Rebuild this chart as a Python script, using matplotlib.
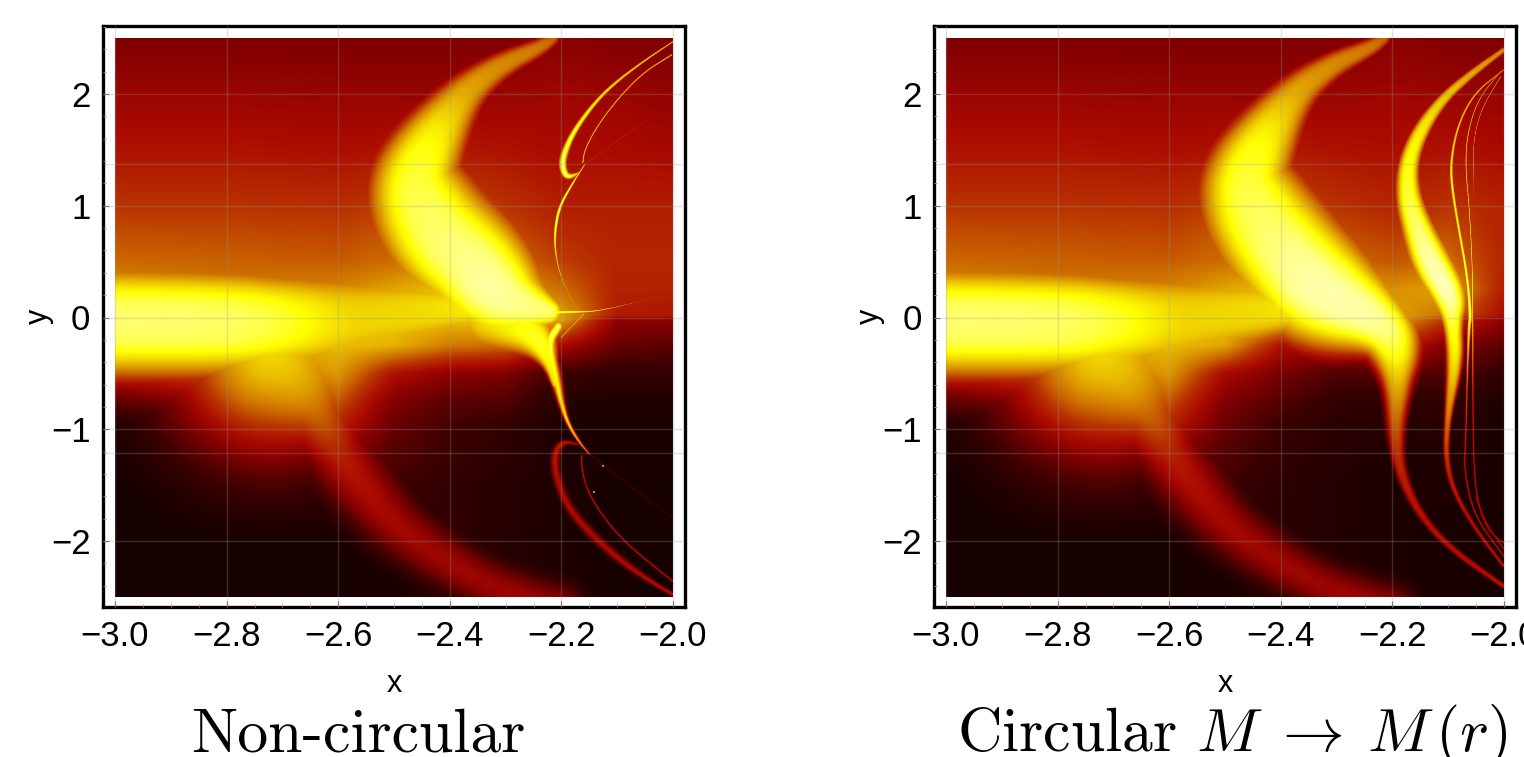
import numpy as np
import matplotlib
matplotlib.use("Agg")
import matplotlib.pyplot as plt
from matplotlib.colors import LinearSegmentedColormap
from matplotlib.ticker import MultipleLocator

# background brightness, rows from y = 2.5 down to y = -2.5
x_nodes = [-3.0, -2.8, -2.6, -2.5, -2.4, -2.3, -2.2, -2.1, -2.0]
y_nodes = [2.5, 2.0, 1.5, 1.0, 0.5, 0.25, 0.02, -0.02, -0.25, -0.5, -0.75, -1.0, -1.5, -2.0, -2.5]

bg_noncircular = [
    [.29, .29, .29, .29, .29, .30, .32, .30, .29],
    [.36, .36, .35, .35, .35, .36, .37, .36, .34],
    [.42, .42, .41, .42, .44, .42, .40, .40, .39],
    [.50, .50, .49, .52, .55, .50, .45, .45, .45],
    [.59, .58, .57, .60, .65, .60, .52, .47, .47],
    [.66, .62, .64, .70, .75, .70, .60, .46, .46],
    [.70, .70, .72, .75, .75, .75, .70, .44, .43],
    [.70, .70, .74, .76, .75, .75, .70, .33, .32],
    [.62, .70, .74, .72, .62, .60, .40, .24, .22],
    [.48, .56, .68, .42, .33, .30, .15, .12, .12],
    [.22, .35, .56, .30, .22, .20, .07, .06, .06],
    [.06, .10, .45, .24, .16, .12, .05, .04, .04],
    [.03, .03, .10, .16, .12, .08, .05, .03, .03],
    [.03, .03, .03, .08, .12, .08, .05, .03, .03],
    [.03, .03, .03, .03, .12, .10, .06, .03, .03],
]

bg_circular = [
    [.29, .29, .29, .29, .29, .30, .32, .30, .29],
    [.36, .36, .35, .35, .35, .36, .37, .36, .35],
    [.42, .42, .41, .42, .44, .42, .41, .42, .40],
    [.50, .50, .49, .52, .55, .50, .47, .50, .46],
    [.59, .58, .57, .60, .65, .60, .56, .60, .47],
    [.66, .62, .64, .70, .75, .72, .66, .70, .45],
    [.70, .70, .72, .75, .75, .75, .70, .60, .40],
    [.70, .70, .74, .76, .75, .75, .70, .50, .33],
    [.62, .70, .74, .70, .42, .38, .50, .30, .22],
    [.48, .56, .68, .40, .28, .20, .20, .20, .12],
    [.22, .35, .56, .30, .20, .12, .10, .12, .06],
    [.06, .10, .45, .24, .14, .09, .07, .08, .04],
    [.03, .03, .10, .16, .10, .07, .05, .05, .03],
    [.03, .03, .03, .08, .10, .07, .05, .04, .03],
    [.03, .03, .03, .03, .10, .08, .05, .03, .03],
]

# bright ridges: x, y, half width (in x units), peak brightness
band_horizontal = [(-3.15, -.03, .12, .93), (-2.8, -.05, .118, .93), (-2.7, -.05, .11, .88),
                   (-2.6, -.03, .11, .78), (-2.5, .03, .09, .78), (-2.4, .08, .06, .80),
                   (-2.3, .10, .04, .85)]
band_lower = [(-2.72, -.30, .20, .78), (-2.68, -.50, .16, .73), (-2.647, -.75, .10, .62),
              (-2.618, -1.0, .08, .53), (-2.60, -1.2, .07, .46), (-2.57, -1.42, .07, .42),
              (-2.504, -1.83, .06, .38), (-2.432, -2.10, .055, .37), (-2.342, -2.37, .05, .36),
              (-2.274, -2.5, .05, .36), (-2.2, -2.62, .05, .36)]
arc_top = [(-2.215, 2.5, .015, .58), (-2.238, 2.42, .02, .62), (-2.31, 2.26, .03, .65),
           (-2.376, 2.01, .045, .70), (-2.435, 1.565, .075, .85), (-2.465, 1.23, .095, .89),
           (-2.448, .98, .12, .91)]
arc_tail_left = [(-2.412, .70, .13, .93), (-2.364, .50, .125, .95), (-2.333, .30, .12, .97),
                 (-2.297, .15, .09, .96), (-2.22, .05, .03, .93)]
arc_tail_right = [(-2.412, .70, .13, .93), (-2.37, .45, .13, .96), (-2.333, .25, .13, .98),
                  (-2.226, -.02, .07, .97), (-2.195, -.22, .06, .90), (-2.19, -.58, .03, .72),
                  (-2.194, -1.0, .018, .55), (-2.188, -1.36, .012, .46), (-2.154, -1.744, .008, .42),
                  (-2.095, -2.075, .006, .42), (-2.0, -2.406, .005, .42)]

# fine structure, left panel
cone_left = [(-2.33, .02, .08, .80), (-2.27, -.08, .06, .85), (-2.24, -.20, .04, .88),
             (-2.22, -.40, .016, .84), (-2.21, -.60, .008, .80)]
cone_edge = [(-2.205, -.08, .012, .92), (-2.224, -.22, .014, .90), (-2.21, -.53, .012, .85),
             (-2.197, -.82, .006, .80), (-2.185, -.975, .004, .80), (-2.167, -1.12, .003, .70),
             (-2.149, -1.225, .002, .55)]
loop_up = [(-2.0, 2.469, .002, .72), (-2.054, 2.29, .003, .75), (-2.108, 2.084, .004, .80),
           (-2.143, 1.905, .005, .84), (-2.179, 1.655, .007, .88), (-2.197, 1.44, .009, .92),
           (-2.197, 1.324, .009, .95), (-2.188, 1.252, .008, .92), (-2.167, 1.297, .003, .70)]
loop_up_thin = [(-2.002, 2.352, .0022, .72), (-2.054, 2.19, .0022, .72), (-2.10, 1.95, .0022, .72),
                (-2.136, 1.708, .0022, .72), (-2.158, 1.50, .0022, .72), (-2.161, 1.386, .0022, .74)]
curve_mid = [(-2.158, 1.368, .0022, .72), (-2.181, 1.19, .003, .85), (-2.203, .993, .004, .92),
             (-2.211, .787, .004, .90), (-2.211, .608, .003, .80), (-2.203, .40, .0022, .72),
             (-2.188, .224, .0022, .68), (-2.167, .054, .0022, .68)]
faint_up = [(-2.158, 1.368, .002, .50), (-2.047, 1.77, .002, .45)]
streak = [(-2.24, .04, .008, .92), (-2.18, .05, .004, .90), (-2.136, .054, .002, .78),
          (-2.06, .143, .002, .50), (-2.0, .2, .002, .47)]
fan = [(-2.16, .03, .002, .78), (-2.2, -.18, .002, .72)]
loop_down = [(-2.168, -1.136, .002, .38), (-2.197, -1.11, .006, .46), (-2.211, -1.208, .009, .44),
             (-2.211, -1.386, .009, .42), (-2.19, -1.69, .009, .40), (-2.143, -1.96, .009, .40),
             (-2.09, -2.19, .008, .40), (-2.041, -2.36, .005, .42), (-2.0, -2.48, .004, .42)]
loop_down_thin = [(-2.163, -1.243, .002, .42), (-2.163, -1.36, .002, .42), (-2.152, -1.565, .002, .42),
                  (-2.118, -1.834, .002, .42), (-2.072, -2.075, .002, .42), (-2.0, -2.361, .002, .42)]
faint_down = [(-2.149, -1.225, .003, .14), (-2.0, -1.8, .003, .10)]

# fine structure, right panel
strand_1 = [(-2.0, 2.397, .006, .64), (-2.054, 2.2, .009, .70), (-2.108, 1.968, .012, .76),
            (-2.149, 1.68, .018, .82), (-2.172, 1.386, .022, .86), (-2.172, 1.08, .028, .89),
            (-2.154, .787, .035, .93), (-2.13, .49, .045, .98), (-2.095, .188, .04, .99),
            (-2.091, -.045, .02, .88), (-2.086, -.376, .018, .82), (-2.1, -.885, .007, .62),
            (-2.104, -1.243, .006, .50), (-2.091, -1.54, .005, .43), (-2.054, -1.87, .004, .42),
            (-2.0, -2.227, .003, .42)]
strand_2 = [(-2.0, 2.218, .002, .64), (-2.053, 2.01, .003, .70), (-2.083, 1.711, .003, .76),
            (-2.095, 1.384, .004, .82), (-2.092, 1.145, .004, .85), (-2.08, .787, .004, .85),
            (-2.065, .37, .004, .90), (-2.059, .012, .005, .95), (-2.062, -.078, .004, .88),
            (-2.065, -.525, .002, .60), (-2.068, -1.12, .002, .45), (-2.071, -1.36, .002, .42),
            (-2.053, -1.777, .002, .42), (-2.0, -2.135, .002, .42)]
strand_3 = [(-2.005, 2.204, .0018, .62), (-2.047, 1.95, .0018, .66), (-2.066, 1.62, .002, .72),
            (-2.068, 1.324, .002, .74), (-2.062, 1.026, .002, .74), (-2.056, .49, .002, .78),
            (-2.055, .01, .002, .85), (-2.055, -.82, .0018, .45), (-2.053, -1.42, .0018, .42),
            (-2.041, -1.777, .0018, .42), (-2.0, -2.07, .0018, .42)]
strand_4 = [(-2.005, 2.16, .0018, .62), (-2.041, 1.86, .0018, .62), (-2.055, 1.56, .0018, .62),
            (-2.053, 1.23, .0018, .62), (-2.053, .907, .0018, .62)]
strand_5 = [(-2.05, -1.6, .0015, .38), (-2.03, -1.9, .0015, .38), (-2.0, -2.02, .0015, .38)]

dots_x = [-2.125, -2.142]
dots_y = [-1.33, -1.565]

x_ticks = [-3.0, -2.8, -2.6, -2.4, -2.2, -2.0]
y_ticks = [-2, -1, 0, 1, 2]
extra_lines_y = [1.37, -1.21]

heat = LinearSegmentedColormap.from_list("heat", [
    (0.0, (15 / 255, 0, 0)),
    (0.15, (60 / 255, 0, 0)),
    (0.3, (130 / 255, 0, 0)),
    (0.4, (170 / 255, 10 / 255, 0)),
    (0.5, (185 / 255, 50 / 255, 0)),
    (0.6, (205 / 255, 110 / 255, 0)),
    (0.7, (225 / 255, 165 / 255, 0)),
    (0.8, (245 / 255, 225 / 255, 0)),
    (0.85, (1, 1, 0)),
    (1.0, (1, 1, 200 / 255)),
])

NX, NY = 558, 559
grid_x = np.linspace(-3, -2, NX)
grid_y = np.linspace(2.5, -2.5, NY)


def round_corners(points, times=3):
    pts = np.array(points, dtype=float)
    for _ in range(times):
        q = .75 * pts[:-1] + .25 * pts[1:]
        r = .25 * pts[:-1] + .75 * pts[1:]
        mid = np.empty((2 * len(q), pts.shape[1]))
        mid[0::2] = q
        mid[1::2] = r
        pts = np.vstack([pts[0], mid, pts[-1]])
    return pts


def add_ridge(field, points, power=2.0):
    pts = round_corners(points)
    # y runs 5 times slower than x on screen
    seg = np.hypot(np.diff(pts[:, 0]), np.diff(pts[:, 1]) / 5)
    dist = np.concatenate([[0], np.cumsum(seg)])
    pos = 0.0
    while pos <= dist[-1]:
        x0 = np.interp(pos, dist, pts[:, 0])
        y0 = np.interp(pos, dist, pts[:, 1])
        w = max(np.interp(pos, dist, pts[:, 2]), .0018)
        p = np.interp(pos, dist, pts[:, 3])
        reach = 2.2 * w + .002
        ix = np.where(np.abs(grid_x - x0) < reach)[0]
        iy = np.where(np.abs(grid_y - y0) / 5 < reach)[0]
        if len(ix) and len(iy):
            xx, yy = np.meshgrid(grid_x[ix], grid_y[iy])
            d = np.hypot(xx - x0, (yy - y0) / 5)
            val = p * np.exp(-(d / w) ** power)
            sub = field[iy[0]:iy[-1] + 1, ix[0]:ix[-1] + 1]
            np.maximum(sub, val, out=sub)
        pos += max(.001, w / 10)


def background(table):
    table = np.array(table)
    rows = np.array([np.interp(grid_x, x_nodes, row) for row in table])
    out = np.empty((NY, NX))
    for j in range(NX):
        out[:, j] = np.interp(grid_y, y_nodes[::-1], rows[::-1, j])
    return out


def panel(fig, left_px, table, wide, soft):
    ax = fig.add_axes([left_px / 1524, 1 - 607 / 757, 582 / 1524, 581 / 757])
    field = background(table)
    for r in wide:
        add_ridge(field, r, power=3.0)
    for r in soft:
        add_ridge(field, r)
    ax.imshow(field, cmap=heat, vmin=0, vmax=1, extent=[-3, -2, -2.5, 2.5],
              aspect="auto", interpolation="bilinear", zorder=1)
    ax.set_xlim(-3 - 12 / 558, -2 + 12 / 558)
    ax.set_ylim(-2.5 - 10 / 111.8, 2.5 + 12 / 111.8)
    ax.set_xticks(x_ticks)
    ax.set_yticks(y_ticks)
    ax.set_xticklabels([f"\u2212{abs(v):.1f}" for v in x_ticks])
    ax.set_yticklabels([str(v).replace("-", "\u2212") for v in y_ticks])
    ax.xaxis.set_minor_locator(MultipleLocator(.05))
    ax.yaxis.set_minor_locator(MultipleLocator(.2))
    ax.tick_params(which="major", direction="in", length=4, width=.8, color="#777777",
                   labelsize=25, pad=9)
    ax.tick_params(which="minor", direction="in", length=2, width=.6, color="#999999")
    ax.grid(True, which="major", color="#999999", alpha=.28, lw=1, zorder=2)
    ax.set_axisbelow(False)
    for v in extra_lines_y:
        ax.axhline(v, color="#999999", alpha=.28, lw=1, zorder=2)
    for s in ax.spines.values():
        s.set_linewidth(2.4)
    ax.set_xlabel("x", fontsize=22, labelpad=12)
    ax.set_ylabel("y", fontsize=22, labelpad=-2)
    return ax


plt.rcParams["font.family"] = ["Liberation Sans", "DejaVu Sans"]
plt.rcParams["mathtext.fontset"] = "cm"

fig = plt.figure(figsize=(15.24, 7.57), dpi=100)

ax1 = panel(fig, 103, bg_noncircular,
            [band_horizontal, arc_top + arc_tail_left, cone_left],
            [band_lower, cone_edge, loop_up, loop_up_thin, curve_mid, faint_up, streak, fan,
             loop_down, loop_down_thin, faint_down])
ax1.plot(dots_x, dots_y, ls="", marker="s", ms=1.5, mew=0, color="#c09000", zorder=1.5)

ax2 = panel(fig, 934, bg_circular,
            [band_horizontal, arc_top + arc_tail_right, strand_1],
            [band_lower, strand_2, strand_3, strand_4, strand_5])

fig.text(358 / 1524, 1 - 751 / 757, "Non-circular", family="cmr10", fontsize=44.4, ha="center", va="baseline")
fig.text(1232 / 1524, 1 - 751 / 757, r"Circular $M\;\to\:M\,(r)$", family="cmr10", fontsize=44.4, ha="center", va="baseline")

fig.savefig("out.png", dpi=100)
